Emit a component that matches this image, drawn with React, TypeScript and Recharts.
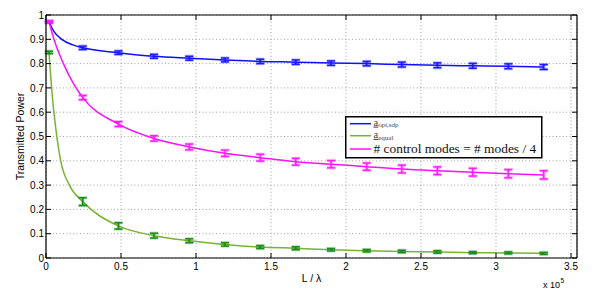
import React from 'react';
import { ComposedChart, Line, Scatter, ErrorBar, XAxis, YAxis, CartesianGrid, Legend, ReferenceLine } from 'recharts';

const FONT = '"Liberation Sans", Arial, Helvetica, sans-serif';
const SERIF = '"Liberation Serif", "Times New Roman", Times, serif';

// layout of the plot frame
const CHART_W = 598;
const CHART_H = 289;
const M_TOP = 15;
const M_RIGHT = 21;
const Y_AXIS_W = 46;
const X_AXIS_H = 31;
const PLOT_TOP = M_TOP;
const PLOT_RIGHT = CHART_W - M_RIGHT;

// axis ticks
const xTicks = [0, 0.5, 1, 1.5, 2, 2.5, 3, 3.5];
const xTickLabels = ['0', '0.5', '1', '1.5', '2', '2.5', '3', '3.5'];
const yTicks = [0, 0.1, 0.2, 0.3, 0.4, 0.5, 0.6, 0.7, 0.8, 0.9, 1];
const yTickLabels = ['0', '0.1', '0.2', '0.3', '0.4', '0.5', '0.6', '0.7', '0.8', '0.9', '1'];
const xDomain = [0, 3.54];
const yDomain = [0, 1];

// L / lambda (x 10^5) of the measured points
const L = [0.02, 0.245, 0.483, 0.72, 0.955, 1.193, 1.428, 1.665, 1.9, 2.138, 2.372, 2.609, 2.845, 3.082, 3.318];

// a_opt,sdp
const optSdp = [0.972, 0.865, 0.845, 0.83, 0.822, 0.815, 0.809, 0.806, 0.802, 0.8, 0.796, 0.793, 0.791, 0.789, 0.786];
const optSdpErr = [0.004, 0.007, 0.007, 0.008, 0.008, 0.008, 0.009, 0.009, 0.009, 0.009, 0.01, 0.01, 0.01, 0.01, 0.01];
// a_equal
const equal = [0.846, 0.232, 0.132, 0.092, 0.071, 0.056, 0.045, 0.04, 0.034, 0.03, 0.027, 0.025, 0.022, 0.021, 0.019];
const equalErr = [0.005, 0.016, 0.013, 0.01, 0.008, 0.007, 0.006, 0.006, 0.005, 0.005, 0.005, 0.005, 0.004, 0.004, 0.004];
// # control modes = # modes / 4
const control = [0.972, 0.66, 0.551, 0.492, 0.457, 0.431, 0.413, 0.396, 0.386, 0.376, 0.366, 0.359, 0.353, 0.347, 0.342];
const controlErr = [0.004, 0.009, 0.01, 0.011, 0.012, 0.013, 0.014, 0.014, 0.015, 0.015, 0.016, 0.016, 0.016, 0.017, 0.017];

const optSdpCurveL = [0.05, 0.105, 0.18];
const optSdpCurveV = [0.935, 0.9, 0.877];
const equalCurveL = [0.04, 0.06, 0.098, 0.156];
const equalCurveV = [0.68, 0.56, 0.4, 0.3];
const controlCurveL = [0.053, 0.116, 0.19];
const controlCurveV = [0.9, 0.8, 0.71];

const seriesNames = ['opt,sdp', 'equal', '# control modes = # modes / 4'];
const lineColors = ['#1010ff', '#78b432', '#ff10ff'];
const markerColors = ['#1c1cff', '#1a8c1a', '#ff20ff'];

const points = (vals: number[], errs: number[]) => L.map((x, i) => ({ x, y: vals[i], e: errs[i] }));
const curve = (vals: number[], cx: number[], cv: number[]) =>
  [...L.map((x, i) => ({ x, y: vals[i] })), ...cx.map((x, i) => ({ x, y: cv[i] }))].sort((a, b) => a.x - b.x);

const optSdpPts = points(optSdp, optSdpErr);
const equalPts = points(equal, equalErr);
const controlPts = points(control, controlErr);
const optSdpCurve = curve(optSdp, optSdpCurveL, optSdpCurveV);
const equalCurve = curve(equal, equalCurveL, equalCurveV);
const controlCurve = curve(control, controlCurveL, controlCurveV);

// bottom ticks (inward) + matching inward ticks on the top edge
const XTick = (props: any) => {
  const { x, y, payload } = props;
  const label = xTickLabels[xTicks.indexOf(payload.value)];
  return (
    <g>
      <line x1={x} x2={x} y1={y} y2={y - 5} stroke="#000" strokeWidth={1} />
      <line x1={x} x2={x} y1={PLOT_TOP} y2={PLOT_TOP + 5} stroke="#000" strokeWidth={1} />
      <text x={x} y={y + 11.5} textAnchor="middle" fontSize={10} style={{ fontFamily: FONT }} fill="#000">{label}</text>
    </g>
  );
};
// left ticks (inward) + matching inward ticks on the right edge
const YTick = (props: any) => {
  const { x, y, payload } = props;
  const label = yTickLabels[yTicks.indexOf(payload.value)];
  return (
    <g>
      <line x1={x + 2} x2={x + 7} y1={y} y2={y} stroke="#000" strokeWidth={1} />
      <line x1={PLOT_RIGHT - 5} x2={PLOT_RIGHT} y1={y} y2={y} stroke="#000" strokeWidth={1} />
      <text x={x} y={y + 3.6} textAnchor="end" fontSize={10} style={{ fontFamily: FONT }} fill="#000">{label}</text>
    </g>
  );
};

const XLabel = (props: any) => {
  const vb = props.viewBox || { x: 46, y: 258, width: 531, height: 31 };
  return (
    <g style={{ fontFamily: FONT }} fill="#000">
      <text x={vb.x + vb.width / 2} y={vb.y + 24} textAnchor="middle" fontSize={10.5}>L / λ</text>
      <text x={vb.x + vb.width - 17} y={vb.y + 29.5} textAnchor="end" fontSize={9}>x 10</text>
      <text x={vb.x + vb.width - 16.5} y={vb.y + 24.5} textAnchor="start" fontSize={6.5}>5</text>
    </g>
  );
};
const YLabel = (props: any) => {
  const vb = props.viewBox || { x: 0, y: 15, width: 46, height: 243 };
  const cx = vb.x + 19.5;
  const cy = vb.y + vb.height / 2;
  return (
    <text x={cx} y={cy} transform={`rotate(-90 ${cx} ${cy})`} textAnchor="middle" dominantBaseline="central"
      fontSize={10.5} style={{ fontFamily: FONT }} fill="#000">Transmitted Power</text>
  );
};

const LegendBox = () => (
  <svg width={198} height={43} style={{ display: 'block' }}>
    <rect x={0.75} y={0.75} width={196} height={41} fill="#fff" stroke="#000" strokeWidth={1.5} />
    <line x1={5} x2={26} y1={7.7} y2={7.7} stroke={lineColors[0]} strokeWidth={1.5} />
    <line x1={5} x2={26} y1={19.7} y2={19.7} stroke={lineColors[1]} strokeWidth={1.5} />
    <line x1={5} x2={26} y1={33} y2={33} stroke={lineColors[2]} strokeWidth={1.5} />
    <text x={28.5} y={9.6} style={{ fontFamily: SERIF }} fontSize={10.5} fill="#444">
      <tspan textDecoration="underline">a</tspan>
      <tspan fontSize={7} dy={1.8}>{seriesNames[0]}</tspan>
    </text>
    <text x={28.5} y={21.9} style={{ fontFamily: SERIF }} fontSize={10.5} fill="#444">
      <tspan textDecoration="underline">a</tspan>
      <tspan fontSize={7} dy={1.8}>{seriesNames[1]}</tspan>
    </text>
    <text x={28.5} y={37} style={{ fontFamily: SERIF }} fontSize={13.4} fill="#111">{seriesNames[2]}</text>
  </svg>
);

const Empty = () => <g />;

const bars = (color: string) => [
  <ErrorBar key="halo" dataKey="e" direction="y" width={4.5} stroke={color} strokeOpacity={0.3} strokeWidth={3.2} isAnimationActive={false} />,
  <ErrorBar key="core" dataKey="e" direction="y" width={4} stroke={color} strokeWidth={1.5} isAnimationActive={false} />,
];

export default function App() {
  return (
    <div style={{ position: 'absolute', left: 0, top: 0, width: CHART_W, height: CHART_H, background: '#fff' }}>
      <ComposedChart width={CHART_W} height={CHART_H} margin={{ top: M_TOP, right: M_RIGHT, bottom: 0, left: 0 }}>
        <CartesianGrid stroke="#a0a0a0" strokeDasharray="1 2.4" strokeWidth={1} vertical horizontal />
        <XAxis dataKey="x" type="number" domain={xDomain} ticks={xTicks} allowDataOverflow
          height={X_AXIS_H} tickSize={0} tickMargin={0} tickLine={false} tick={<XTick />}
          axisLine={{ stroke: '#000', strokeWidth: 1.2 }} label={<XLabel />} interval={0} />
        <YAxis dataKey="y" type="number" domain={yDomain} ticks={yTicks} allowDataOverflow
          width={Y_AXIS_W} tickSize={0} tickMargin={2} tickLine={false} tick={<YTick />}
          axisLine={{ stroke: '#000', strokeWidth: 1.2 }} label={<YLabel />} interval={0} />
        <ReferenceLine y={yDomain[1]} stroke="#000" strokeWidth={1.2} ifOverflow="visible" />
        <ReferenceLine x={xDomain[1]} stroke="#000" strokeWidth={1.2} ifOverflow="visible" />
        <Line data={optSdpCurve} dataKey="y" type="monotone" stroke={lineColors[0]} strokeWidth={1.5}
          dot={false} activeDot={false} isAnimationActive={false} legendType="none" />
        <Line data={equalCurve} dataKey="y" type="monotone" stroke={lineColors[1]} strokeWidth={1.5}
          dot={false} activeDot={false} isAnimationActive={false} legendType="none" />
        <Line data={controlCurve} dataKey="y" type="monotone" stroke={lineColors[2]} strokeWidth={1.5}
          dot={false} activeDot={false} isAnimationActive={false} legendType="none" />
        <Scatter data={optSdpPts} dataKey="y" shape={<Empty />} isAnimationActive={false} legendType="none">
          {bars(markerColors[0])}
        </Scatter>
        <Scatter data={equalPts} dataKey="y" shape={<Empty />} isAnimationActive={false} legendType="none">
          {bars(markerColors[1])}
        </Scatter>
        <Scatter data={controlPts} dataKey="y" shape={<Empty />} isAnimationActive={false} legendType="none">
          {bars(markerColors[2])}
        </Scatter>
        <Legend layout="horizontal" verticalAlign="middle" align="center" content={<LegendBox />}
          wrapperStyle={{ left: 345, top: 116, width: 198, height: 43 }} />
      </ComposedChart>
    </div>
  );
}
